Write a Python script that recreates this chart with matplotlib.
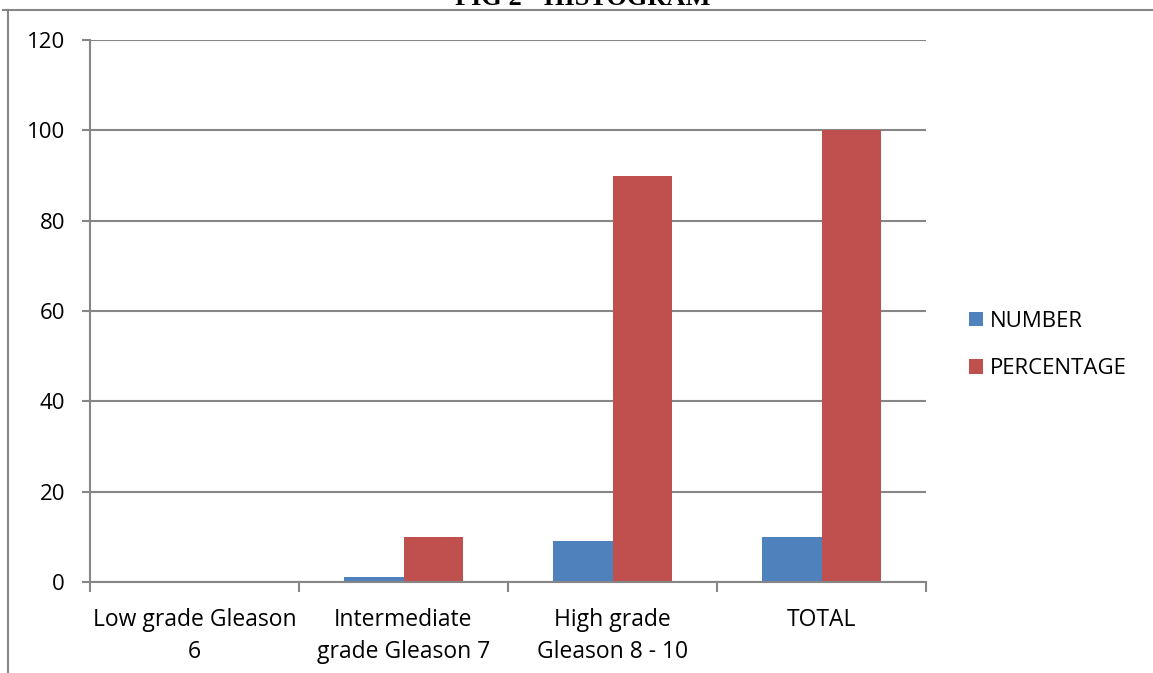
import matplotlib.pyplot as plt
import numpy as np
from matplotlib.lines import Line2D

# Gleason grade groups
categories = ["Low grade Gleason\n6", "Intermediate\ngrade Gleason 7",
              "High grade\nGleason 8 - 10", "TOTAL"]
number = [0, 1, 9, 10]
percentage = [0, 10, 90, 100]
yticks = [0, 20, 40, 60, 80, 100, 120]

blue = "#4F81BD"
red = "#C0504D"
grey = "#868686"

plt.rcParams['font.family'] = ['Open Sans', 'DejaVu Sans']

fig = plt.figure(figsize=(11.53, 6.73), dpi=100)
ax = fig.add_axes([90 / 1153, 1 - 582 / 673, 836 / 1153, 542 / 673])

x = np.arange(len(categories))
w = 0.287
ax.bar(x - w / 2, number, w, color=blue, label="NUMBER")
ax.bar(x + w / 2, percentage, w, color=red, label="PERCENTAGE")

ax.set_xlim(-0.5, len(categories) - 0.5)
ax.set_ylim(0, 120)
ax.set_yticks(yticks)
ax.yaxis.grid(True, color=grey, linewidth=1.5)
ax.set_axisbelow(True)

ax.set_xticks(x)
ax.set_xticklabels(categories, fontsize=16.5, linespacing=1.45)
ax.set_xticks(np.arange(len(categories) + 1) - 0.5, minor=True)
ax.tick_params(axis='x', which='major', length=0, pad=19)
ax.tick_params(axis='x', which='minor', length=7, width=1.5, color=grey)
ax.tick_params(axis='y', length=6, width=1.5, color=grey, labelsize=16, pad=12)

for s in ['top', 'right']:
    ax.spines[s].set_visible(False)
for s in ['left', 'bottom']:
    ax.spines[s].set_color(grey)
    ax.spines[s].set_linewidth(1.5)

ax.legend(loc='center left', bbox_to_anchor=(1.027, 0.437), frameon=False,
          fontsize=16, handlelength=0.65, handleheight=0.65,
          handletextpad=0.3, labelspacing=1.2)

# outer frame lines of the figure
fig.add_artist(Line2D([3 / 1153, 1], [1 - 10 / 673] * 2, color=grey, lw=1.5))
fig.add_artist(Line2D([8 / 1153] * 2, [0, 1 - 10 / 673], color=grey, lw=1.5))

fig.text(583 / 1153, 1 - 5 / 673, "FIG 2 - HISTOGRAM", ha='center', va='baseline',
         fontsize=19, fontweight='bold', family=['Liberation Serif', 'DejaVu Serif'])

fig.savefig("out.png", dpi=100)
